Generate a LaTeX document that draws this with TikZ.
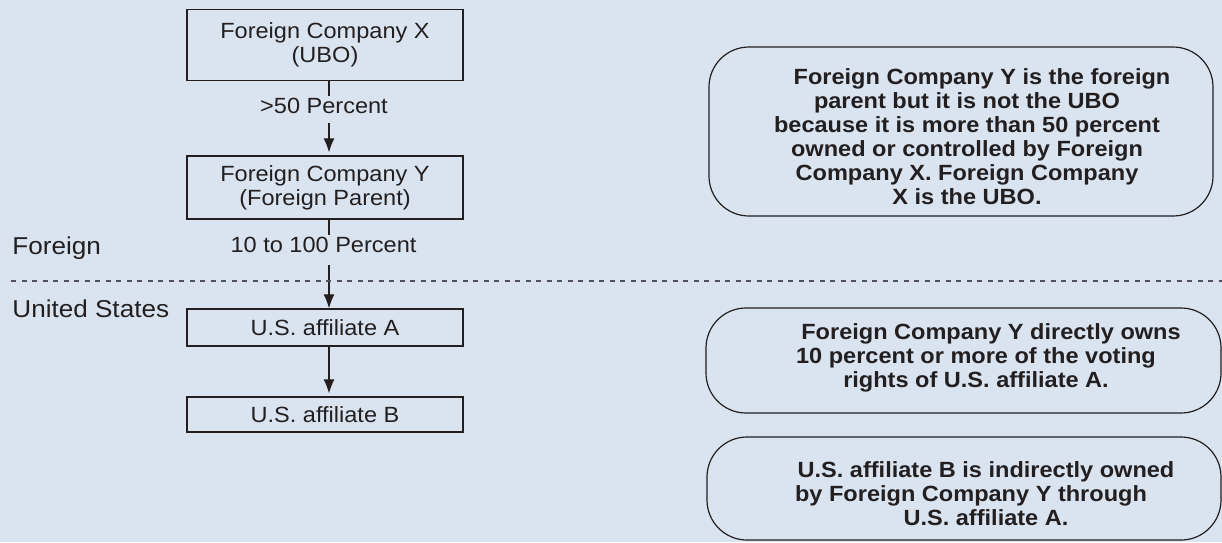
\documentclass[tikz,border=0pt]{standalone}
\usepackage{fontspec}
\setmainfont{Liberation Sans}[FakeStretch=1.07]
\usetikzlibrary{arrows.meta,calc}
\definecolor{bg}{RGB}{217,228,240}
\definecolor{ink}{RGB}{35,31,32}
\definecolor{dashgray}{RGB}{80,81,90}
\begin{document}
\begin{tikzpicture}[x=0.5pt,y=-0.5pt,
  every node/.style={text=ink},
  cbox/.style={draw=ink, line width=0.65pt, minimum width=138pt, inner sep=0pt, align=center, font=\fontsize{11}{12}\selectfont},
  pct/.style={inner xsep=0pt, inner ysep=1pt, font=\fontsize{11}{12}\selectfont},
  rbox/.style={draw=ink, line width=0.6pt, rounded corners=20pt, inner sep=0pt},
  note/.style={inner sep=0pt, align=center, font=\fontsize{11}{12}\selectfont\bfseries},
  region/.style={inner sep=0pt, anchor=base west, font=\fontsize{12.2}{14}\selectfont},
  conn/.style={draw=ink, line width=0.6pt},
  arr/.style={conn, -{Latex[length=7pt,width=5.5pt]}},
  divider/.style={draw=dashgray, line width=0.9pt, dash pattern=on 2.5pt off 2.75pt}]

\fill[bg] (0,0) rectangle (1222,542);
\useasboundingbox (0,0) rectangle (1222,542);

% left chain
\node[cbox, minimum height=35.5pt] (X) at (325,44.7) {Foreign Company X\\(UBO)};
\node[cbox, minimum height=31.5pt] (Y) at (325,187.5) {Foreign Company Y\\(Foreign Parent)};
\node[cbox, minimum height=18.5pt] (A) at (325,327.5) {U.S. affiliate A};
\node[cbox, minimum height=17.5pt] (B) at (325,414.5) {U.S. affiliate B};

\node[pct] (p1) at (324,106) {>50 Percent};
\node[pct] (p2) at (323.5,245.3) {10 to 100 Percent};

\coordinate (ax) at (329,0);
\draw[conn] (X.south -| ax) -- (p1.north -| ax);
\draw[arr] ($(p1.south -| ax)+(0,7)$) -- ($(Y.north -| ax)+(0,-3)$);
\draw[conn] (Y.south -| ax) -- (p2.north -| ax);
\draw[arr] ($(p2.south -| ax)+(0,10)$) -- (A.north -| ax);
\draw[arr] (A.south -| ax) -- ($(B.north -| ax)+(0,-3)$);

% regions
\node[region] (fr) at (12,254.3) {Foreign};
\node[region] (us) at (12,317) {United States};
\coordinate (d0) at (11,280.7);
\coordinate (d1) at (1222,280.7);
\draw[divider] (d0) -- (d1);

% notes
\node[rbox, minimum width=252pt, minimum height=84.5pt] (R1) at (961,131.5) {};
\node[rbox, minimum width=257.5pt, minimum height=52.5pt] (R2) at (963.5,360.5) {};
\node[rbox, minimum width=257pt, minimum height=51.5pt] (R3) at (964,488.5) {};

\node[note, anchor=north] (T1) at (967,68) {\hspace*{15pt}Foreign Company Y is the foreign\\parent but it is not the UBO\\because it is more than 50 percent\\owned or controlled by Foreign\\Company X. Foreign Company\\X is the UBO.};
\node[note, anchor=north] (T2) at (976,323) {\hspace*{15pt}Foreign Company Y directly owns\\10 percent or more of the voting\\rights of U.S. affiliate A.};
\node[note, anchor=north] (T3) at (971,461.5) {\hspace*{15pt}U.S. affiliate B is indirectly owned\\by Foreign Company Y through\\\hspace*{15pt}U.S. affiliate A.};
\end{tikzpicture}
\end{document}
